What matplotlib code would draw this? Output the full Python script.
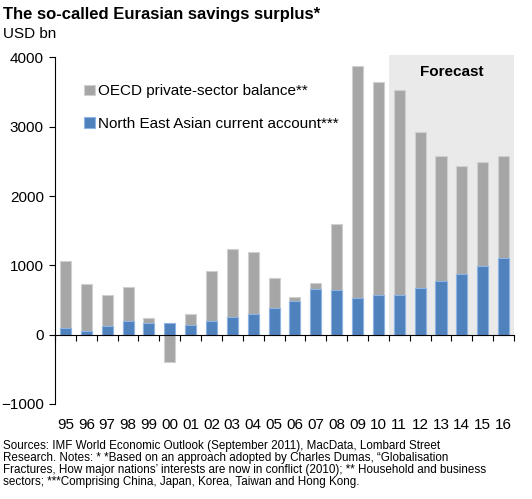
import matplotlib.pyplot as plt
import numpy as np

plt.rcParams['font.family'] = ['Liberation Sans', 'DejaVu Sans']

years = ["95", "96", "97", "98", "99", "00", "01", "02", "03", "04", "05",
         "06", "07", "08", "09", "10", "11", "12", "13", "14", "15", "16"]
oecd_private = [1060, 730, 575, 685, 240, -395, 305, 925, 1230, 1200, 815,
                545, 745, 1600, 3875, 3645, 3530, 2920, 2585, 2430, 2485, 2580]
ne_asia_ca = [100, 58, 120, 192, 173, 168, 134, 192, 250, 303, 380,
              480, 662, 652, 533, 576, 576, 677, 768, 869, 984, 1100]
forecast_start = "11"

GREY = "#A6A6A6"
BLUE = "#4F81BD"

fig = plt.figure(figsize=(5.32, 4.99), dpi=100)
ax = fig.add_axes([0.1034, 0.1904, 0.8628, 0.6944])

x = np.arange(len(years))
fi = years.index(forecast_start)

# forecast shading
ax.axvspan(fi - 0.5, len(years) - 0.5, ymin=0.2, ymax=1.007, color="#EAEAEA",
           lw=0, zorder=0, clip_on=False)
ax.text((fi - 0.5 + len(years) - 0.5) / 2, 3790, "Forecast", ha="center",
        va="center", fontsize=11, fontweight="bold")

w = 0.53
ax.bar(x, oecd_private, width=w, color=GREY, edgecolor="#D0D0D0", linewidth=0.8,
       label="OECD private-sector balance**", zorder=2)
ax.bar(x, ne_asia_ca, width=w, color=BLUE, edgecolor="#8EB4E3", linewidth=0.8,
       label="North East Asian current account***", zorder=3)

ax.set_xlim(-0.5, len(years) - 0.5)
ax.set_ylim(-1000, 4000)
ax.set_yticks([-1000, 0, 1000, 2000, 3000, 4000])
ax.tick_params(axis="y", direction="out", length=4, labelsize=11, pad=4)

for s in ["top", "right"]:
    ax.spines[s].set_visible(False)
ax.spines["bottom"].set_position(("data", 0))
ax.spines["bottom"].set_zorder(4)
ax.set_xticks(np.arange(-0.5, len(years)))
ax.tick_params(axis="x", direction="out", length=4, labelbottom=False)

sec = ax.secondary_xaxis("bottom")
sec.set_xticks(x)
sec.set_xticklabels(years)
sec.spines["bottom"].set_visible(False)
sec.tick_params(axis="x", length=0, labelsize=11, pad=10)

ax.legend(loc="upper left", bbox_to_anchor=(0.05, 0.94), frameon=False,
          fontsize=11, handlelength=0.7, handleheight=0.7, handletextpad=0.2,
          labelspacing=1.2, borderaxespad=0)

fig.text(0.006, 0.985, "The so-called Eurasian savings surplus*", fontsize=12,
         fontweight="bold", va="top")
fig.text(0.006, 0.945, "USD bn", fontsize=11, va="top")
fig.text(0.006, 0.119,
         "Sources: IMF World Economic Outlook (September 2011), MacData, Lombard Street\n"
         "Research. Notes: * *Based on an approach adopted by Charles Dumas, \u201cGlobalisation\n"
         "Fractures, How major nations\u2019 interests are now in conflict (2010); ** Household and business\n"
         "sectors; ***Comprising China, Japan, Korea, Taiwan and Hong Kong.",
         fontsize=8.4, va="top", linespacing=1.0)

fig.savefig("out.png", dpi=100)
